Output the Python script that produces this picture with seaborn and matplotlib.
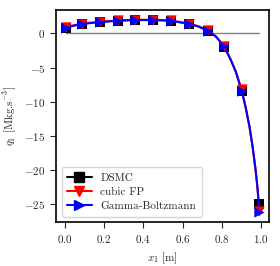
import matplotlib
matplotlib.use('Agg')
import matplotlib.pyplot as plt
import pandas as pd
import seaborn as sns
from matplotlib.lines import Line2D

# marker positions along x1
x_pts = [0.005, 0.09, 0.18, 0.27, 0.36, 0.45, 0.54, 0.63, 0.73, 0.81, 0.90, 0.99]
q_dsmc = [0.85, 1.35, 1.6, 1.8, 1.9, 1.9, 1.8, 1.35, 0.3, -1.95, -8.4, -25.0]
q_fp = [0.95, 1.45, 1.7, 1.9, 2.0, 2.0, 1.9, 1.45, 0.45, -1.8, -8.2, -26.0]
q_gb = [0.85, 1.4, 1.65, 1.85, 1.95, 1.95, 1.85, 1.4, 0.35, -1.9, -8.4, -26.2]

# dense solution curves
x_line = [0.005, 0.09, 0.18, 0.27, 0.36, 0.45, 0.54, 0.63, 0.68, 0.73, 0.77, 0.81,
          0.845, 0.87, 0.90, 0.92, 0.94, 0.955, 0.97, 0.98, 0.99]
q_fp_line = [0.95, 1.45, 1.7, 1.9, 2.0, 2.0, 1.9, 1.45, 1.05, 0.4, -0.45, -1.85,
             -3.9, -5.6, -8.3, -10.8, -13.7, -16.5, -19.8, -22.5, -26.0]
q_gb_line = [0.85, 1.4, 1.65, 1.85, 1.95, 1.95, 1.85, 1.4, 1.0, 0.35, -0.5, -1.9,
             -3.9, -5.6, -8.4, -10.8, -13.7, -16.5, -19.8, -22.5, -26.2]

sns.set_style('ticks')
plt.rcParams['font.family'] = 'serif'
plt.rcParams['font.serif'] = ['cmr10', 'DejaVu Serif']
plt.rcParams['mathtext.fontset'] = 'cm'
plt.rcParams['axes.formatter.use_mathtext'] = True
plt.rcParams['font.size'] = 8

pts = pd.DataFrame({'x': x_pts, 'DSMC': q_dsmc, 'FP': q_fp, 'GB': q_gb})
lines = pd.DataFrame({'x': x_line, 'FP': q_fp_line, 'GB': q_gb_line})

fig, ax = plt.subplots(figsize=(2.8, 2.66), dpi=100)
fig.subplots_adjust(left=0.2, right=0.961, top=0.962, bottom=0.165)

ax.plot([x_pts[0], x_pts[-1]], [0, 0], color='gray', lw=1)

sns.scatterplot(data=pts, x='x', y='DSMC', color='black', marker='s', s=45,
                linewidth=0, ax=ax, zorder=2)
sns.lineplot(data=lines, x='x', y='FP', color='red', lw=1.5, ax=ax)
sns.scatterplot(data=pts, x='x', y='FP', color='red', marker='v', s=55,
                linewidth=0, ax=ax, zorder=3)
sns.lineplot(data=lines, x='x', y='GB', color='blue', lw=1.5, ax=ax)
sns.scatterplot(data=pts, x='x', y='GB', color='blue', marker='>', s=55,
                linewidth=0, ax=ax, zorder=4)

for sp in ax.spines.values():
    sp.set_color('black')
    sp.set_linewidth(1.2)
ax.tick_params(length=4)

ax.set_xticks([0.0, 0.2, 0.4, 0.6, 0.8, 1.0])
ax.set_yticks([0, -5, -10, -15, -20, -25])
ax.set_xlabel(r'$x_1$ [m]')
ax.set_ylabel(r'$q_1$ [Mkg.s$^{-3}$]')

handles = [
    Line2D([], [], color='black', marker='s', markersize=6.5, lw=1.5),
    Line2D([], [], color='red', marker='v', markersize=7.5, lw=1.5),
    Line2D([], [], color='blue', marker='>', markersize=7.5, lw=1.5),
]
ax.legend(handles, ['DSMC', 'cubic FP', 'Gamma-Boltzmann'], loc='lower left',
          handlelength=2.2, borderpad=0.5, labelspacing=0.4)

plt.savefig('out.png', dpi=100)
